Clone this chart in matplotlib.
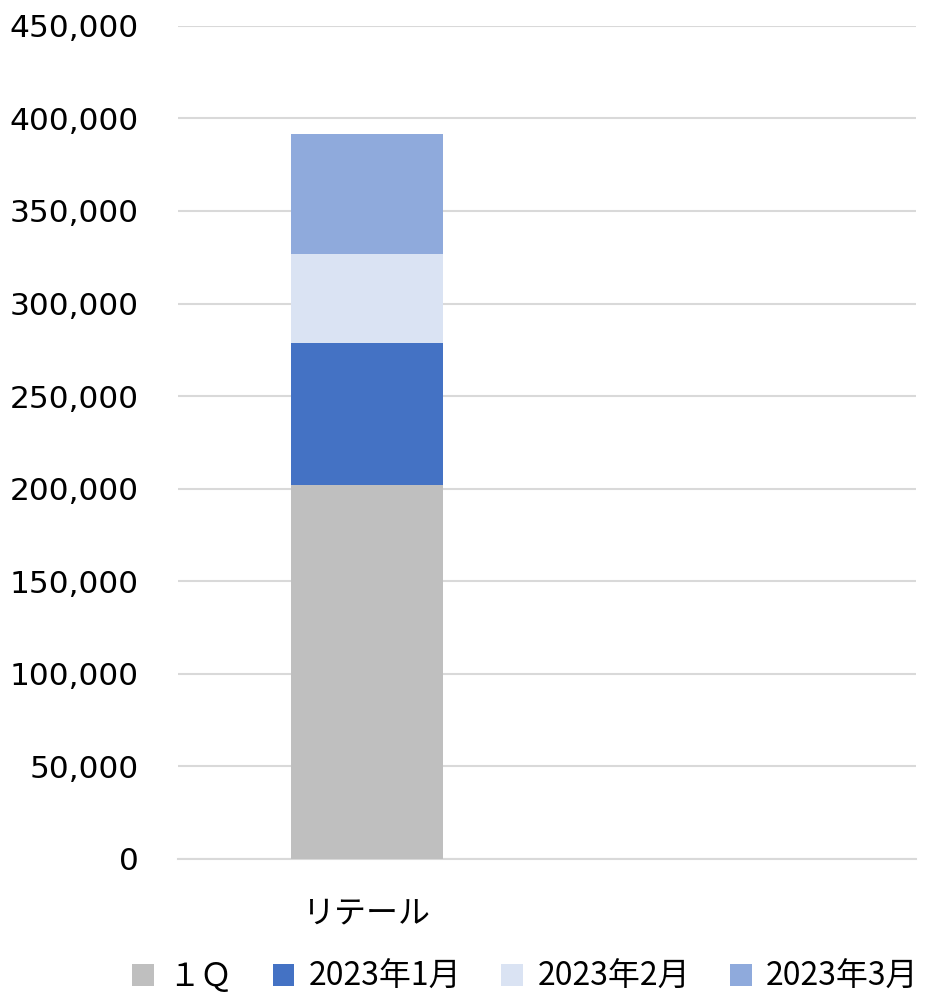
import matplotlib
matplotlib.use("Agg")
import matplotlib.pyplot as plt
from matplotlib.ticker import FuncFormatter, MultipleLocator

categories = ["リテール"]
series_names = ["１Ｑ", "2023年1月", "2023年2月", "2023年3月"]
series_values = [
    [202000],
    [76700],
    [48000],
    [64800],
]
colors = ["#bfbfbf", "#4472c4", "#dae3f3", "#8faadc"]

plt.rcParams['font.family'] = ['DejaVu Sans', 'Noto Sans CJK JP']

fig = plt.figure(figsize=(9.3, 9.93), dpi=100)
ax = fig.add_axes([0.1914, 0.135, 0.7936, 0.839])

x = list(range(len(categories)))
bottom = [0] * len(categories)
handles = []
for name, vals, c in zip(series_names, series_values, colors):
    b = ax.bar([xi + 0.012 for xi in x], vals, width=0.412, bottom=bottom, color=c, label=name, zorder=3)
    handles.append(b)
    bottom = [bo + v for bo, v in zip(bottom, vals)]

ax.set_xlim(-0.5, 1.5)
ax.set_ylim(0, 450000)
ax.yaxis.set_major_locator(MultipleLocator(50000))
ax.yaxis.set_major_formatter(FuncFormatter(lambda v, p: f"{int(v):,}"))
ax.grid(axis='y', color='#d9d9d9', linewidth=1.5, zorder=0)
for s in ['top', 'right', 'left']:
    ax.spines[s].set_visible(False)
ax.spines['bottom'].set_color('#d9d9d9')
ax.spines['bottom'].set_linewidth(1.5)
ax.tick_params(axis='y', length=0, labelsize=22.5, pad=28, colors='black')
ax.tick_params(axis='x', length=0, pad=28)
ax.set_xticks([xi + 0.012 for xi in x])
ax.set_xticklabels(categories, fontsize=23, family=['Noto Sans CJK JP'])

leg = fig.legend(handles=handles, labels=series_names, loc='center', bbox_to_anchor=(0.565, 0.016),
                 ncol=4, frameon=False, prop={'family': ['Noto Sans CJK JP'], 'size': 23},
                 handlelength=0.68, handleheight=0.68, handletextpad=0.45, columnspacing=1.25)
fig.savefig("out.png", dpi=100)
